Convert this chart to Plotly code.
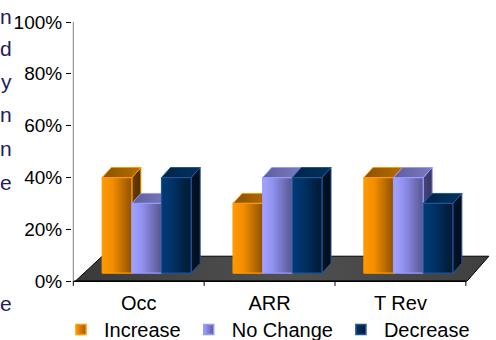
import plotly.graph_objects as go

# ---------------- data ----------------
categories = ["Occ", "ARR", "T Rev"]
series_names = ["Increase", "No Change", "Decrease"]
increase = [0.40, 0.30, 0.40]
no_change = [0.30, 0.40, 0.40]
decrease = [0.40, 0.40, 0.30]
y_tick_vals = [0, 0.2, 0.4, 0.6, 0.8, 1.0]
y_tick_text = ["0%", "20%", "40%", "60%", "80%", "100%"]
side_letters = ["n", "d", "y", "n", "n", "e", "e"]

series_values = [increase, no_change, decrease]

# ---------------- styles ----------------
styles = [
    dict(front=[[0, "#FF9900"], [0.35, "#F28E00"], [1, "#8E5100"]],
         top=[[0, "#8A5200"], [1, "#B86C00"]],
         side=[[0, "#6A3E00"], [1, "#4F2E00"]],
         outline="#FF9900", leg="#FF9900", leg2="#9A5800"),
    dict(front=[[0, "#A3A3FF"], [0.35, "#9090EE"], [1, "#56568F"]],
         top=[[0, "#5E5E9E"], [1, "#7A7AC0"]],
         side=[[0, "#46467A"], [1, "#363660"]],
         outline="#9999FF", leg="#A0A0FF", leg2="#5A5A99"),
    dict(front=[[0, "#003A78"], [0.35, "#003366"], [1, "#001830"]],
         top=[[0, "#002448"], [1, "#00325F"]],
         side=[[0, "#001428"], [1, "#000C1A"]],
         outline="#1F5595", leg="#003366", leg2="#001A33"),
]

FONT = "Arial, Liberation Sans, sans-serif"

# geometry (data units)
BAR_W = 0.2265
GROUP_LEFT = -0.279
DX = 0.069
DY = 0.0386
BASE = 0.031

fig = go.Figure()


def poly(xs, ys, grad=None, fill=None, line_color="black", lw=1.0):
    kw = dict(x=list(xs) + [xs[0]], y=list(ys) + [ys[0]], mode="lines",
              fill="toself", line=dict(color=line_color, width=lw),
              hoverinfo="skip", showlegend=False)
    if grad is not None:
        kw["fillgradient"] = dict(type="horizontal", colorscale=grad)
    else:
        kw["fillcolor"] = fill
    fig.add_trace(go.Scatter(**kw))


# floor
poly([-0.485, 2.508, 2.676, -0.279], [0, 0, 0.0965, 0.0965],
     grad=[[0, "#3A3A3A"], [0.5, "#505050"], [1, "#404040"]], line_color="#000000", lw=1)

# bars
for ci, cat in enumerate(categories):
    for si, vals in enumerate(series_values):
        v = vals[ci]
        st = styles[si]
        x0 = ci + GROUP_LEFT + si * BAR_W
        x1 = x0 + BAR_W
        # side face
        poly([x1, x1 + DX, x1 + DX, x1], [BASE, BASE + DY, v + DY, v],
             grad=st["side"], line_color=st["outline"], lw=1)
        # top face
        poly([x0, x1, x1 + DX, x0 + DX], [v, v, v + DY, v + DY],
             grad=st["top"], line_color=st["outline"], lw=1)
        # front face
        poly([x0, x1, x1, x0], [BASE, BASE, v, v],
             grad=st["front"], line_color=st["outline"], lw=1.2)

# axis lines
fig.add_trace(go.Scatter(x=[-0.5, 2.5], y=[0, 0], mode="lines",
                         line=dict(color="#000000", width=1.5),
                         hoverinfo="skip", showlegend=False))
fig.add_trace(go.Scatter(x=[-0.5, -0.5], y=[0, 1.0], mode="lines",
                         line=dict(color="#7F7F7F", width=1),
                         hoverinfo="skip", showlegend=False))
for b in [-0.5, 0.5, 1.5, 2.5]:
    fig.add_trace(go.Scatter(x=[b, b], y=[0, -0.018], mode="lines",
                             line=dict(color="#000000", width=1),
                             hoverinfo="skip", showlegend=False))

# legend entries
for si, name in enumerate(series_names):
    st = styles[si]
    fig.add_trace(go.Scatter(
        x=[None], y=[None], mode="markers", name=name,
        marker=dict(symbol="square", size=10, color=st["leg"],
                    gradient=dict(type="horizontal", color=st["leg2"]),
                    line=dict(color=st["outline"], width=1.5))))

# cut-off side text (from neighbouring slide content)
W, H = 496, 340
ML, MR, MT, MB = 72, 4, 22, 51
PW, PH = W - ML - MR, H - MT - MB


def px_x(px):
    return (px - ML) / PW


def px_y(py):
    return (H - MB - py) / PH


letter_centers = [17, 48, 81, 115, 148, 183, 303]
for ch, cy in zip(side_letters, letter_centers):
    fig.add_annotation(x=px_x(14), y=px_y(cy), xref="paper", yref="paper",
                       text=ch, showarrow=False, xanchor="right", yanchor="middle",
                       font=dict(family=FONT, size=21, color="#1C1C62"))

fig.update_layout(
    width=W, height=H,
    margin=dict(l=ML, r=MR, t=MT, b=MB, autoexpand=False),
    paper_bgcolor="white", plot_bgcolor="white",
    font=dict(family=FONT, color="#000000"),
    xaxis=dict(range=[-0.51, 2.70], tickvals=[0, 1, 2], ticktext=categories,
               showgrid=False, zeroline=False, showline=False, ticks="",
               tickfont=dict(size=20, family=FONT), fixedrange=True),
    yaxis=dict(range=[-0.03, 1.0], tickvals=y_tick_vals, ticktext=y_tick_text,
               showgrid=False, zeroline=False, showline=False, ticks="outside",
               ticklen=5, tickcolor="#000000", tickwidth=1,
               tickfont=dict(size=19, family=FONT), fixedrange=True),
    legend=dict(orientation="h", x=px_x(58), xanchor="left",
                y=px_y(329.5), yanchor="middle", itemwidth=36,
                font=dict(size=20, family=FONT), bgcolor="rgba(0,0,0,0)",
                itemclick=False, itemdoubleclick=False),
    showlegend=True,
)

fig.write_html("out.html")
